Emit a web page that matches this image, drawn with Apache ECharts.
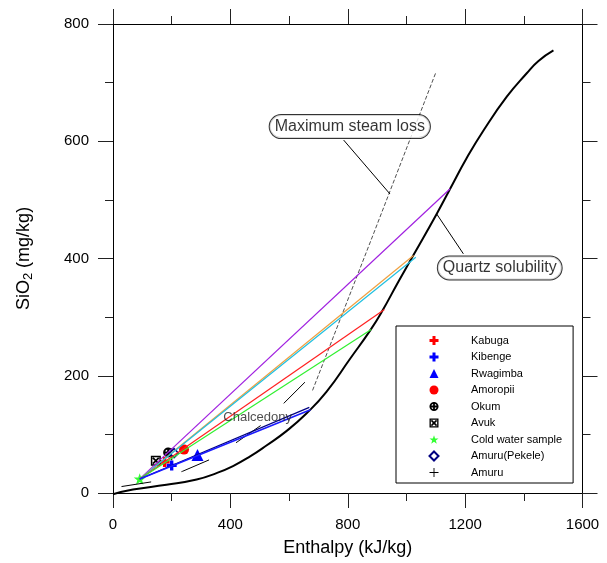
<!DOCTYPE html>
<html>
<head>
<meta charset="utf-8">
<script src="https://cdn.jsdelivr.net/npm/echarts@6/dist/echarts.min.js"></script>
<style>
  html, body { margin: 0; padding: 0; background: #fff; }
  #chart { width: 607px; height: 563px; }
</style>
</head>
<body>
<div id="chart"></div>
<script>
// Enthalpy (kJ/kg) vs SiO2 (mg/kg) mixing model

// Quartz solubility curve
const quartzCurve = [
  [0, -2], [68, 6], [182, 14], [285, 23], [353, 34], [409, 46], [466, 62],
  [523, 81], [592, 106], [660, 136], [728, 173], [808, 229], [876, 277],
  [916, 309], [972, 360], [1023, 405], [1103, 476], [1149, 519],
  [1205, 571], [1262, 618], [1342, 676], [1410, 716], [1450, 737], [1501, 755]
];

// Chalcedony solubility curve
const chalcedonyCurve = [
  [29, 11], [131, 19], [237, 37], [330, 57], [423, 87], [506, 116], [586, 155], [660, 192]
];

// Maximum steam loss line
const steamLossLine = [[680, 175], [890, 445], [1100, 717]];

// Mixing lines from the cold water sample to the quartz curve
const coldWater = [91, 24];
const mixEndNavy = [669, 146];
const mixEndBlue = [673, 142];
const mixEndGreen = [880, 279];
const mixEndRed = [925, 313];
const mixEndOrange = [1024, 405];
const mixEndCyan = [1032, 402];
const mixEndPurple = [1149, 519];

// Samples
const kabuga = [[176, 53]];
const kibenge = [[200, 47]];
const rwagimba = [[288, 65]];
const amoropii = [[242, 74]];
const okum = [[188, 69]];
const avuk = [[146, 55]];
const coldWaterSample = [[91, 24]];
const amuruPekele = [[208, 68]];
const amuru = [[200, 66]];

// Annotations
const steamLossLeader = [[786, 602], [944, 510]];
const quartzLeader = [[1194, 408], [1103, 476]];
const annotationLabels = [
  { name: 'Maximum steam loss', value: [807, 625] },
  { name: 'Quartz solubility', value: [1318, 384] },
  { name: 'Chalcedony', value: [493, 129] }
];

const FONT = 'Liberation Sans, Arial, sans-serif';

const PLUS_PATH = 'path://M-3,-9H3V-3H9V3H3V9H-3V3H-9V-3H-3Z';
const OKUM_PATH = 'path://M0,-10A10,10,0,1,1,0,10A10,10,0,1,1,0,-10ZM0,-6A6,6,0,1,0,0,6A6,6,0,1,0,0,-6ZM-2,-10H2V10H-2ZM-10,-2H10V2H-10Z';
const AVUK_PATH = 'path://M-10,-10H10V10H-10ZM-7,-7V7H7V-7ZM-7,-4.5L-4.5,-7L7,4.5L4.5,7ZM4.5,-7L7,-4.5L-4.5,7L-7,4.5Z';
const CROSS_PATH = 'path://M-1,-10H1V-1H10V1H1V10H-1V1H-10V-1H-1Z';
const STAR_PATH = 'path://M0,-10L2.35,-3.24L9.51,-3.09L3.8,1.24L5.88,8.09L0,4L-5.88,8.09L-3.8,1.24L-9.51,-3.09L-2.35,-3.24Z';

function lineSeries(data, color, width, type, extra) {
  return Object.assign({
    type: 'line',
    data: data,
    symbol: 'none',
    silent: true,
    clip: false,
    lineStyle: { color: color, width: width, type: type || 'solid' }
  }, extra || {});
}

function mixLine(end, color, width) {
  return lineSeries([coldWater, end], color, width);
}

function sampleSeries(name, data, symbol, size, color, extraStyle) {
  return {
    name: name,
    type: 'scatter',
    data: data,
    symbol: symbol,
    symbolSize: size,
    symbolKeepAspect: true,
    clip: false,
    itemStyle: Object.assign({ color: color, opacity: 1 }, extraStyle || {})
  };
}

const axisLineStyle = { color: '#000', width: 1 };
const tickStyle = { color: '#222', width: 1 };
const plainNumber = function (v) { return String(v); };

function xAxisDef(pos, showLabel) {
  return {
    type: 'value', position: pos, min: 0, max: 1600, interval: 400,
    name: showLabel ? 'Enthalpy (kJ/kg)' : '',
    nameLocation: 'middle', nameGap: 46,
    nameTextStyle: { fontFamily: FONT, fontSize: 18, color: '#000' },
    axisLine: { show: true, onZero: false, lineStyle: axisLineStyle },
    axisTick: { show: true, inside: false, length: 15, lineStyle: tickStyle },
    minorTick: { show: true, splitNumber: 2, length: 8, lineStyle: tickStyle },
    splitLine: { show: false },
    minorSplitLine: { show: false },
    axisLabel: { show: showLabel, margin: 24, fontFamily: FONT, fontSize: 15, color: '#000', formatter: plainNumber }
  };
}

function yAxisDef(pos, showLabel) {
  return {
    type: 'value', position: pos, min: 0, max: 800, interval: 200,
    name: showLabel ? '{n|SiO}{s|2}{n| (mg/kg)}' : '',
    nameLocation: 'middle', nameGap: 78,
    nameTextStyle: {
      fontFamily: FONT, color: '#000',
      rich: {
        n: { fontFamily: FONT, fontSize: 18, lineHeight: 22, color: '#000' },
        s: { fontFamily: FONT, fontSize: 13, lineHeight: 12, verticalAlign: 'bottom', color: '#000' }
      }
    },
    axisLine: { show: true, onZero: false, lineStyle: axisLineStyle },
    axisTick: { show: true, inside: false, length: 15, lineStyle: tickStyle },
    minorTick: { show: true, splitNumber: 2, length: 8, lineStyle: tickStyle },
    splitLine: { show: false },
    minorSplitLine: { show: false },
    axisLabel: { show: showLabel, margin: 24, fontFamily: FONT, fontSize: 15, color: '#000', formatter: plainNumber }
  };
}

const legendNames = ['Kabuga', 'Kibenge', 'Rwagimba', 'Amoropii', 'Okum', 'Avuk',
  'Cold water sample', 'Amuru(Pekele)', 'Amuru'];

const option = {
  animation: false,
  backgroundColor: '#fff',
  grid: { left: 113, right: 24.5, top: 24, bottom: 70, containLabel: false },
  xAxis: [xAxisDef('bottom', true), xAxisDef('top', false)],
  yAxis: [yAxisDef('left', true), yAxisDef('right', false)],
  legend: {
    data: legendNames,
    orient: 'vertical',
    left: 396, top: 326,
    padding: [9, 11, 5, 32.5],
    itemWidth: 9, itemHeight: 9, itemGap: 5.5,
    symbolKeepAspect: true,
    backgroundColor: '#fff',
    borderColor: '#000', borderWidth: 1,
    selectedMode: false,
    textStyle: { fontFamily: FONT, fontSize: 11, color: '#000', padding: [0, 0, 0, 27.5] }
  },
  series: [
    lineSeries(quartzCurve, '#000', 2, 'solid', { smooth: 0.5 }),
    lineSeries(chalcedonyCurve, '#000', 1, [30, 32]),
    lineSeries(steamLossLine, '#222', 0.8, [4, 2]),
    lineSeries(steamLossLeader, '#000', 1),
    lineSeries(quartzLeader, '#000', 1),
    mixLine(mixEndPurple, '#a020e0', 1.2),
    mixLine(mixEndOrange, '#f0a040', 1.2),
    mixLine(mixEndCyan, '#20c0e0', 1.2),
    mixLine(mixEndRed, '#ff2020', 1.2),
    mixLine(mixEndGreen, '#30f030', 1.2),
    mixLine(mixEndNavy, '#000080', 1.2),
    mixLine(mixEndBlue, '#1a1aff', 1.6),
    sampleSeries('Kabuga', kabuga, PLUS_PATH, 10, '#ff0000'),
    sampleSeries('Kibenge', kibenge, PLUS_PATH, 10, '#0000ff'),
    sampleSeries('Rwagimba', rwagimba, 'triangle', 12, '#0000ff'),
    sampleSeries('Amoropii', amoropii, 'circle', 10, '#ff0000'),
    sampleSeries('Amuru', amuru, CROSS_PATH, 12, '#000'),
    sampleSeries('Okum', okum, OKUM_PATH, 10, '#000'),
    sampleSeries('Avuk', avuk, AVUK_PATH, 10, '#000'),
    sampleSeries('Amuru(Pekele)', amuruPekele, 'diamond', 9, '#fff',
      { borderColor: '#000080', borderWidth: 1.5 }),
    sampleSeries('Cold water sample', coldWaterSample, STAR_PATH, 12, '#33ff33'),
    {
      type: 'scatter',
      silent: true,
      clip: false,
      symbolSize: 0,
      data: annotationLabels.map(function (d) {
        if (d.name === 'Chalcedony') {
          return { name: d.name, value: d.value, label: { fontSize: 13, color: '#222' } };
        }
        // Boxed annotation labels
        return {
          name: d.name, value: d.value,
          label: {
            backgroundColor: '#fff', borderColor: '#000', borderWidth: 1,
            borderRadius: 12, padding: [4, 5, 3, 5]
          }
        };
      }),
      label: {
        show: true,
        position: 'inside',
        formatter: '{b}',
        fontFamily: FONT,
        fontSize: 16,
        color: '#000'
      },
      labelLayout: { hideOverlap: false },
      itemStyle: { color: 'transparent' },
      z: 5
    }
  ]
};

const chart = echarts.init(document.getElementById('chart'), null, { renderer: 'canvas' });
chart.setOption(option);
</script>
</body>
</html>
